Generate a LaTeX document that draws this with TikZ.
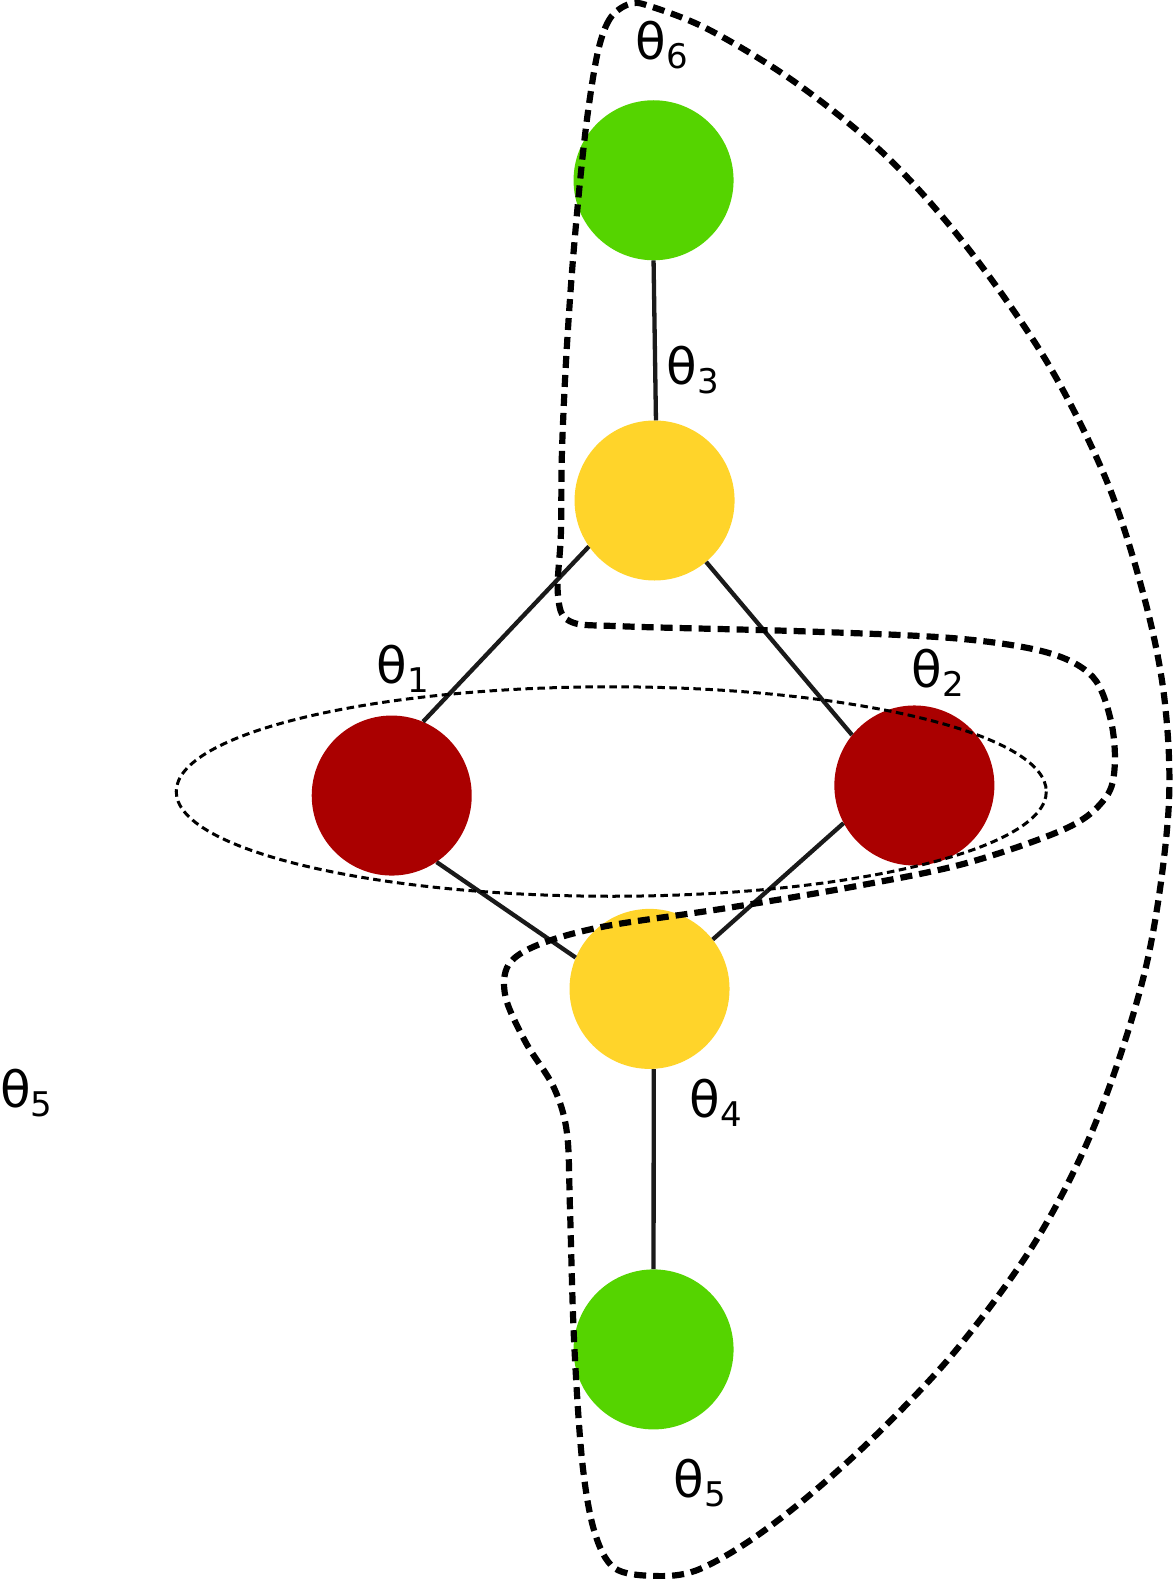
\documentclass[tikz,border=0pt]{standalone}
\usepackage{fontspec}
\setmainfont{DejaVu Sans}
\begin{document}
\begin{tikzpicture}[x=1.00686pt,y=-1.00686pt,
  ball/.style={circle,minimum size=160pt,inner sep=0pt,draw=none},
  gball/.style={ball,fill={rgb,255:red,85;green,212;blue,0}},
  yball/.style={ball,fill={rgb,255:red,255;green,212;blue,42}},
  rball/.style={ball,fill={rgb,255:red,170;green,0;blue,0}},
  link/.style={draw={rgb,255:red,26;green,26;blue,26},line width=4.3pt},
  lbl/.style={inner sep=0pt,font=\fontsize{50}{56}\selectfont},
  bigdash/.style={line width=6.2pt,dash pattern=on 12pt off 7pt},
  smalldash/.style={line width=3pt,dash pattern=on 7.5pt off 4.5pt}]
\useasboundingbox (0,0) rectangle (1166,1568);
\newcommand{\thsub}[1]{θ\raisebox{-9pt}{\fontsize{34}{40}\selectfont #1}}
% nodes
\node[gball] (g1) at (649,179) {};
\node[yball] (y1) at (650,497) {};
\node[rball] (r1) at (389,790) {};
\node[rball] (r2) at (908,780) {};
\node[yball] (y2) at (645,982) {};
\node[gball] (g2) at (649,1340) {};
% connectors
\draw[link] (g1.270) -- (y1.89);
\draw[link] (y1.215) -- (r1.67);
\draw[link] (y1.310) -- (r2.141);
\draw[link] (r1.304) -- (y2.157);
\draw[link] (r2.208) -- (y2.38);
\draw[link] (y2.273.5) -- (g2.90);
% dotted ellipse
\draw[smalldash] (607,786) ellipse [x radius=432, y radius=104];
% big dashed closed curve
\draw[bigdash] plot[smooth cycle,tension=0.55] coordinates {
 (625,4) (606,18) (594,50) (584,110) (576,180) (568,270) (562,360) (558,450) (557,530) (554,590)
 (566,617) (620,622) (800,627) (950,634) (1040,648) (1085,672) (1103,715) (1107,760)
 (1098,792) (1060,822) (960,857) (850,880) (720,902) (600,920) (535,938) (505,958) (502,990)
 (522,1035) (550,1080) (563,1125) (566,1200) (570,1330) (578,1450) (590,1520) (610,1557)
 (650,1565) (690,1560) (740,1533) (800,1488) (870,1425) (950,1340) (1030,1230) (1090,1110)
 (1138,960) (1160,810) (1157,700) (1138,600) (1100,480) (1040,360) (960,245) (880,155)
 (790,82) (705,30) (645,6)};
% labels
\node[lbl] (t6) at (657,45) {\thsub{6}};
\node[lbl] (t3) at (688,367) {\thsub{3}};
\node[lbl] (t1) at (400,664) {\thsub{1}};
\node[lbl] (t2) at (931,668) {\thsub{2}};
\node[lbl] (t4) at (711,1095) {\thsub{4}};
\node[lbl] (t5) at (695,1473) {\thsub{5}};
\node[lbl,anchor=west] (t5b) at (0,1085) {\thsub{5}};
\end{tikzpicture}
\end{document}
